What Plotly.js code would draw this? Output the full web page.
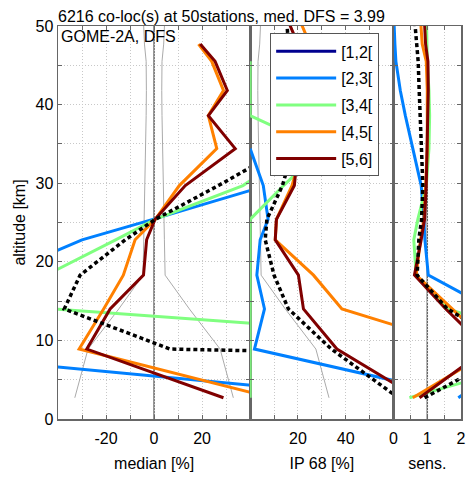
<!DOCTYPE html>
<html>
<head>
<meta charset="utf-8">
<script src="https://cdn.plot.ly/plotly-3.0.1.min.js"></script>
<style>html,body{margin:0;padding:0;background:#fff}#chart{width:473px;height:480px}</style>
</head>
<body>
<div id="chart"></div>
<script>
// altitude levels [km]
const altitude = [2.7, 8.9, 14.0, 18.3, 22.8, 25.4, 29.7, 34.4, 38.6, 41.8, 45.5, 47.7, 52];

// series names (DFS classes)
const seriesNames = ['[1,2[', '[2,3[', '[3,4[', '[4,5[', '[5,6]'];

// median [%]
const median12 = [null, null, null, null, null, null, null, null, null, null, null, null, null];
const median23 = [96, -120, -85, -64, -30, -0.5, 47, 70, 80, 85, 90, 95, null];
const median34 = [150, 187, -41, -45, -16, 0.4, 37, 60, 65, 70, 75, null, null];
const median45 = [49, -31.2, -21, -12.8, -7.9, 0.5, 10.5, 26.1, 22.6, 28.9, 24, 18.5, null];
const median56 = [28.9, -28, -18.3, -4.4, -3.1, 0.4, 13, 33.8, 22.6, 30.5, 25.4, 19.2, null];
const medianAll = [1000, 6.7, -37.4, -30.8, -12, 0.5, 26.8, 54, 60, 65, 70, 75, null];

// IP 68 [%]
const ip12 = [null, null, null, null, null, null, null, null, null, null, null, null, null];
const ip23 = [92, 1.8, 6.0, 2.8, 4.2, 7.5, 5.5, 0, null, null, null, null, null];
const ip34 = [0, 0, 0, 0, 0, 0, 14, 30, 0, 0, 0, null, null];
const ip45 = [120, 93, 38.4, 26.5, 10.5, 11, 17.5, 22, 24, 25, 26, 25, 19];
const ip56 = [70, 36.3, 22.3, 20.2, 10.5, 11, 18.5, 20, 22, 22, 22, 20, 14];
const ipAll = [62, 34, 16, 10, 6.3, 7, 13.5, 18, 18, 17, 17, 16, 15];

// expected uncertainty envelope [%] (grey)
const envelope = [33, 27.5, 14.7, 4.6, 4.3, 4.1, 3.9, 3.6, 3.3, 3.2, 3.3, 4.0, 4.6];

// sensitivity
const sens12 = [null, null, null, null, null, null, null, null, null, null, null, null, null];
const sens23 = [1.92, 4, 2.9, 1.03, 0.93, 0.9, 0.82, 0.56, 0.35, 0.2, 0.07, 0.04, 0.0];
const sens34 = [0.47, 5.5, 1.6, 0.67, 0.6, 0.72, 0.97, 1.05, 1.07, 1.05, 1.0, 0.98, 0.97];
const sens45 = [0.57, 3.0, 1.74, 0.67, 0.8, 0.9, 0.95, 1.0, 1.0, 1.0, 0.97, 0.85, 0.78];
const sens56 = [0.77, 2.76, 1.55, 0.62, 0.82, 0.92, 0.97, 1.0, 1.02, 1.03, 1.02, 0.95, 0.9];
const sensAll = [0.92, 3.6, 1.6, 0.7, 0.75, 0.83, 0.87, 0.82, 0.78, 0.76, 0.73, 0.68, 0.6];

const colors = ['#00008f', '#0080ff', '#80ff80', '#ff8000', '#800000'];
const FONT = 'Liberation Sans, Arial, sans-serif';

const medians = [median12, median23, median34, median45, median56];
const ips = [ip12, ip23, ip34, ip45, ip56];
const senss = [sens12, sens23, sens34, sens45, sens56];

const traces = [];
const greyLine = {color: '#aaaaaa', width: 1};
traces.push({x: envelope.map(v => -v), y: altitude, mode: 'lines', line: greyLine, showlegend: false, xaxis: 'x', yaxis: 'y', hoverinfo: 'skip'});
traces.push({x: envelope, y: altitude, mode: 'lines', line: greyLine, showlegend: false, xaxis: 'x', yaxis: 'y', hoverinfo: 'skip'});
traces.push({x: envelope, y: altitude, mode: 'lines', line: greyLine, showlegend: false, xaxis: 'x2', yaxis: 'y2', hoverinfo: 'skip'});

const panels = [[medians, 'x', 'y'], [ips, 'x2', 'y2'], [senss, 'x3', 'y3']];
panels.forEach(([arrs, xa, ya], p) => {
  arrs.forEach((arr, i) => {
    traces.push({
      x: arr, y: altitude, mode: 'lines', name: seriesNames[i],
      line: {color: colors[i], width: 3},
      showlegend: p === 0, legendgroup: 'g' + i,
      xaxis: xa, yaxis: ya, connectgaps: false
    });
  });
});
[[medianAll, 'x', 'y'], [ipAll, 'x2', 'y2'], [sensAll, 'x3', 'y3']].forEach(([arr, xa, ya]) => {
  traces.push({x: arr, y: altitude, mode: 'lines', line: {color: '#000', width: 3.5, dash: '4px,3px'},
    showlegend: false, xaxis: xa, yaxis: ya});
});

const axLine = {showline: true, linecolor: '#666', linewidth: 1.5, mirror: 'ticks', ticks: 'inside',
  ticklen: 4, tickcolor: '#666', showgrid: true, gridcolor: '#c8c8c8', griddash: '1px,2px', gridwidth: 1,
  zeroline: false, tickfont: {family: FONT, size: 16, color: '#000'}};

const yvals = [0,5,10,15,20,25,30,35,40,45,50];
const ytext = yvals.map(v => v % 10 === 0 ? String(v) : '');

const d1 = 192 / 402.7, d2 = 335.3 / 402.7;
const xTitle = t => ({text: t, font: {family: FONT, size: 16}, standoff: 12});
const layout = {
  width: 473, height: 480,
  margin: {l: 58, r: 12.3, t: 25.6, b: 61.4},
  paper_bgcolor: '#fff', plot_bgcolor: '#fff',
  font: {family: FONT, size: 16, color: '#000'},
  title: {text: '6216 co-loc(s) at 50stations, med. DFS = 3.99', font: {family: FONT, size: 16, color: '#000'},
    xref: 'paper', x: 0, xanchor: 'left', yref: 'paper', y: 1, yanchor: 'bottom', pad: {b: 4}},
  xaxis: Object.assign({}, axLine, {domain: [0, d1], range: [-40, 40], anchor: 'y', ticklabelstandoff: 4,
    tickvals: [-40,-30,-20,-10,0,10,20,30,40], ticktext: ['','','-20','','0','','20','',''],
    title: xTitle('median [%]')}),
  xaxis2: Object.assign({}, axLine, {domain: [d1, d2], range: [0, 60], anchor: 'y2', ticklabelstandoff: 4,
    tickvals: [0,10,20,30,40,50,60], ticktext: ['','','20','','40','',''],
    title: xTitle('IP 68 [%]')}),
  xaxis3: Object.assign({}, axLine, {domain: [d2, 1], range: [0, 2], anchor: 'y3', ticklabelstandoff: 4,
    tickvals: [0,0.5,1,1.5,2], ticktext: ['0','','1','','2'],
    title: xTitle('sens.')}),
  yaxis: Object.assign({}, axLine, {range: [0, 50], anchor: 'x', tickvals: yvals, ticktext: ytext,
    title: {text: 'altitude [km]', font: {family: FONT, size: 16}, standoff: 6}}),
  yaxis2: Object.assign({}, axLine, {range: [0, 50], anchor: 'x2', matches: 'y', tickvals: yvals, showticklabels: false}),
  yaxis3: Object.assign({}, axLine, {range: [0, 50], anchor: 'x3', matches: 'y', tickvals: yvals, showticklabels: false}),
  shapes: [
    {type: 'line', xref: 'x', yref: 'y', x0: 0, x1: 0, y0: 0, y1: 50, line: {color: '#666', width: 1.5}, layer: 'below'},
    {type: 'line', xref: 'x3', yref: 'y3', x0: 1, x1: 1, y0: 0, y1: 50, line: {color: '#666', width: 1.5}, layer: 'below'}
  ],
  annotations: [
    {text: 'GOME-2A, DFS', xref: 'paper', yref: 'paper', x: 0, y: 1, xanchor: 'left', yanchor: 'top',
      showarrow: false, font: {family: FONT, size: 16, color: '#000'}, xshift: 1}
  ],
  legend: {x: (270 - 58) / 402.7, y: (418.6 - 33) / 393, xanchor: 'left', yanchor: 'top',
    bgcolor: '#fff', bordercolor: '#555', borderwidth: 1, font: {family: FONT, size: 16, color: '#000'},
    traceorder: 'grouped', tracegroupgap: 3, itemwidth: 60}
};

Plotly.newPlot('chart', traces, layout, {staticPlot: true, displayModeBar: false});
</script>
</body>
</html>
